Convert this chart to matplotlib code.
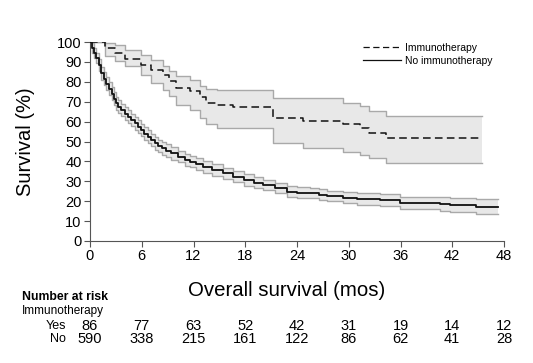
import matplotlib
matplotlib.use("Agg")
import matplotlib.pyplot as plt
from matplotlib.transforms import blended_transform_factory

plt.rcParams['font.family'] = ['Liberation Sans', 'DejaVu Sans']

# ---- data ----
t_imm = [0, 1.7, 2.9, 4.0, 5.95, 7.1, 8.5, 9.2, 10.0, 11.55,
         12.7, 13.5, 14.7, 16.6, 21.2, 24.7, 29.3, 31.3, 32.4, 34.3, 45.4]
s_imm = [100, 97, 94.5, 91.6, 88.6, 86, 83.6, 80.2, 77, 75.2,
         72.2, 69.3, 68.5, 67.5, 62, 60.5, 58.6, 56.6, 54.4, 51.9, 51.9]
hi_imm = [100, 99.5, 98.5, 96, 93.6, 91, 87.8, 85.3, 83, 81,
          78, 76.5, 76, 76, 71.7, 71.7, 69.5, 67.8, 65.3, 62.8, 62.8]
lo_imm = [100, 92.8, 90.3, 87.8, 83.6, 79.4, 76, 72.7, 68.5, 66,
          62, 59, 56.6, 56.6, 49, 46.6, 44.9, 43.2, 41.5, 39, 39]

t_no = [0, 0.25, 0.5, 0.75, 1, 1.3, 1.6, 1.9, 2.2, 2.5,
        2.8, 3.05, 3.3, 3.6, 4.0, 4.4, 4.8, 5.2, 5.6, 5.95,
        6.3, 6.7, 7.1, 7.5, 7.9, 8.3, 8.8, 9.4, 10.2, 11,
        11.6, 12.3, 13.1, 14.2, 15.4, 16.6, 17.8, 19, 20.1, 21.4,
        22.8, 24, 25.5, 26.5, 27.5, 29.3, 31, 33.6, 35.9, 38,
        40.6, 41.7, 44.8, 47.3]
s_no = [100, 97, 94.5, 91.8, 88.5, 84.3, 81.5, 79, 76.5, 74,
        71.5, 69.2, 67.5, 65.8, 64, 62.5, 60.8, 59.1, 57.5, 55.8,
        54, 52.4, 50.8, 49.1, 47.8, 46.6, 45.3, 44, 42.4, 40.8,
        39.9, 38.6, 37.3, 35.6, 34, 32.4, 30.7, 29.3, 28.1, 26.5,
        24.8, 24.3, 24, 23.3, 22.7, 21.8, 21.2, 20.6, 19.3, 18.9,
        18.6, 18.1, 17.3, 17.3]
hi_no = [100, 99.5, 97, 94.3, 91.7, 87.5, 84.7, 82.2, 79.7, 77.2,
         74.7, 72.4, 70.7, 69, 67.2, 65.7, 64, 62.3, 60.7, 59,
         57.2, 55.6, 54, 52.3, 51, 49.8, 48.5, 47.2, 45.3, 43.7,
         42.8, 41.5, 40.2, 38.5, 36.9, 35.3, 33.6, 32.2, 30.7, 29.1,
         27.4, 26.9, 26.6, 25.9, 25.3, 24.4, 24.2, 23.6, 22.3, 21.9,
         22.2, 21.7, 20.9, 20.9]
lo_no = [100, 94.5, 92, 89.3, 85.3, 81.1, 78.3, 75.8, 73.3, 70.8,
         68.3, 66, 64.3, 62.6, 60.8, 59.3, 57.6, 55.9, 54.3, 52.6,
         50.8, 49.2, 47.6, 45.9, 44.6, 43.4, 42.1, 40.8, 39.5, 37.9,
         37, 35.7, 34.4, 32.7, 31.1, 29.5, 27.8, 26.4, 25.5, 23.9,
         22.2, 21.7, 21.4, 20.7, 20.1, 19.2, 18.2, 17.6, 16.3, 15.9,
         15, 14.5, 13.7, 13.7]

risk_times = [0, 6, 12, 18, 24, 30, 36, 42, 48]
risk_yes = [86, 77, 63, 52, 42, 31, 19, 14, 12]
risk_no = [590, 338, 215, 161, 122, 86, 62, 41, 28]

x_ticks = [0, 6, 12, 18, 24, 30, 36, 42, 48]
y_ticks = [0, 10, 20, 30, 40, 50, 60, 70, 80, 90, 100]

W, H = 533, 363
fig = plt.figure(figsize=(W / 100, H / 100), dpi=100)
ax = fig.add_axes([90 / W, 1 - 241 / H, (504 - 90) / W, (241 - 42) / H])

band_face = '#e8e8e8'
band_edge = '#a9a9a9'

for t, lo, hi in [(t_imm, lo_imm, hi_imm), (t_no, lo_no, hi_no)]:
    ax.fill_between(t, lo, hi, step='post', facecolor=band_face, edgecolor='none', zorder=1)
    ax.plot(t, lo, drawstyle='steps-post', color=band_edge, lw=1.0, zorder=2)
    ax.plot(t, hi, drawstyle='steps-post', color=band_edge, lw=1.0, zorder=2)

l1, = ax.plot(t_imm, s_imm, drawstyle='steps-post', color='#111111', lw=1.1,
              dashes=(5, 2.8), zorder=3, label='Immunotherapy')
l2, = ax.plot(t_no, s_no, drawstyle='steps-post', color='#111111', lw=1.3,
              zorder=3, label='No immunotherapy')

ax.set_xlim(0, 48)
ax.set_ylim(0, 100)
ax.set_xticks(x_ticks)
ax.set_yticks(y_ticks)
ax.spines['top'].set_visible(False)
ax.spines['right'].set_visible(False)
for s in ['left', 'bottom']:
    ax.spines[s].set_color('#555555')
    ax.spines[s].set_linewidth(0.8)
ax.tick_params(axis='both', direction='out', length=4, width=0.8, color='#555555',
               labelsize=10.5, pad=2)
ax.margins(0)

ax.set_ylabel('Survival (%)', fontsize=14.5)
ax.yaxis.set_label_coords(-0.133, 0.5)
ax.set_xlabel('Overall survival (mos)', fontsize=14.7)
ax.xaxis.set_label_coords(0.476, -0.2)

leg = fig.legend(handles=[l1, l2], loc='upper left', bbox_to_anchor=(363 / W, 1 - 43 / H),
                 frameon=False, fontsize=7.5, handlelength=3.6, handletextpad=0.4,
                 borderpad=0, borderaxespad=0, labelspacing=0.25)
for h in leg.get_lines():
    h.set_linewidth(0.9)

# Number at risk table
fig.text(22 / W, 1 - 297 / H, 'Number at risk', fontsize=8.8, fontweight='bold', va='center', ha='left')
fig.text(22 / W, 1 - 311 / H, 'Immunotherapy', fontsize=8.5, va='center', ha='left')
fig.text(66 / W, 1 - 326 / H, 'Yes', fontsize=9, va='center', ha='right')
fig.text(66 / W, 1 - 339 / H, 'No', fontsize=9, va='center', ha='right')
trans = blended_transform_factory(ax.transData, fig.transFigure)
for xt, a, b in zip(risk_times, risk_yes, risk_no):
    ax.text(xt, 1 - 326 / H, str(a), transform=trans, ha='center', va='center', fontsize=10.5)
    ax.text(xt, 1 - 339 / H, str(b), transform=trans, ha='center', va='center', fontsize=10.5)

fig.savefig('out.png', dpi=100)
